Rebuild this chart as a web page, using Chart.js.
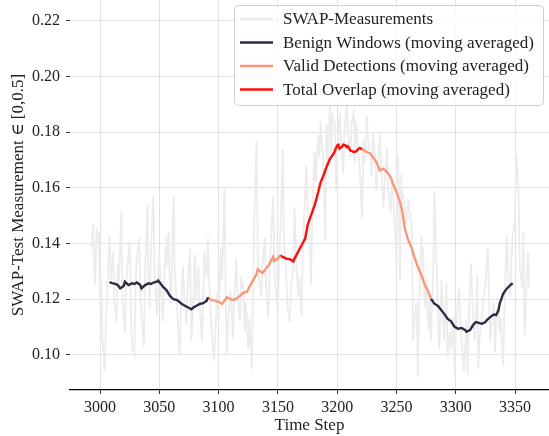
<!DOCTYPE html>
<html>
<head>
<meta charset="utf-8">
<script src="https://cdn.jsdelivr.net/npm/chart.js@4.4.0/dist/chart.umd.min.js"></script>
<style>
    body { margin: 0; background: #fff; }
    #wrap { width: 549px; height: 436px; }
</style>
</head>
<body>
<div id="wrap"><canvas id="graficoSwap" width="549" height="436"></canvas></div>
<script>
// Datos
const rawSteps = [
    2993, 2994, 2995, 2996, 2997, 2998, 2999, 3000, 3001, 3002, 3004, 3005, 3006, 3008, 3009, 3011, 3012, 3014, 3015, 3016,
    3018, 3019, 3021, 3022, 3023, 3025, 3026, 3027, 3029, 3030, 3031, 3033, 3034, 3036, 3037, 3038, 3040, 3041, 3042, 3043,
    3045, 3046, 3048, 3049, 3050, 3052, 3053, 3054, 3056, 3057, 3058, 3059, 3060, 3062, 3063, 3065, 3066, 3067, 3068, 3070,
    3071, 3073, 3074, 3076, 3077, 3078, 3080, 3081, 3083, 3084, 3086, 3087, 3088, 3090, 3091, 3092, 3094, 3096, 3097, 3099,
    3100, 3102, 3103, 3105, 3106, 3107, 3108, 3110, 3111, 3112, 3113, 3115, 3116, 3118, 3119, 3121, 3122, 3123, 3125, 3126,
    3128, 3129, 3130, 3132, 3133, 3134, 3136, 3137, 3139, 3140, 3142, 3143, 3145, 3146, 3147, 3149, 3150, 3151, 3153, 3154,
    3155, 3157, 3158, 3160, 3161, 3163, 3164, 3165, 3167, 3168, 3170, 3171, 3172, 3174, 3175, 3177, 3178, 3179, 3181, 3182,
    3184, 3185, 3186, 3187, 3188, 3190, 3191, 3192, 3194, 3195, 3196, 3198, 3199, 3200, 3202, 3203, 3205, 3206, 3208, 3209,
    3211, 3212, 3214, 3215, 3216, 3217, 3219, 3221, 3222, 3223, 3225, 3226, 3228, 3229, 3230, 3232, 3233, 3234, 3236, 3237,
    3239, 3240, 3242, 3243, 3245, 3246, 3247, 3249, 3250, 3251, 3252, 3253, 3254, 3255, 3257, 3258, 3260, 3261, 3263, 3264,
    3265, 3267, 3268, 3269, 3271, 3272, 3274, 3275, 3277, 3278, 3279, 3281, 3282, 3283, 3284, 3286, 3287, 3288, 3290, 3291,
    3292, 3293, 3295, 3296, 3298, 3299, 3300, 3302, 3303, 3304, 3306, 3307, 3309, 3310, 3311, 3312, 3313, 3314, 3316, 3317,
    3318, 3319, 3320, 3322, 3323, 3325, 3326, 3327, 3329, 3330, 3332, 3333, 3334, 3336, 3337, 3338, 3340, 3341, 3343, 3344,
    3346, 3347, 3348, 3350, 3351, 3352, 3353, 3354, 3356, 3357, 3358, 3360, 3361, 3362
];
const rawValues = [
    0.139, 0.147, 0.131, 0.125, 0.146, 0.140, 0.144, 0.118, 0.128, 0.106, 0.094, 0.112, 0.121, 0.143, 0.127, 0.137, 0.119, 0.112, 0.133, 0.126,
    0.152, 0.121, 0.108, 0.125, 0.131, 0.141, 0.118, 0.103, 0.100, 0.124, 0.135, 0.142, 0.121, 0.109, 0.103, 0.129, 0.154, 0.125, 0.117, 0.138,
    0.157, 0.129, 0.114, 0.128, 0.136, 0.119, 0.112, 0.127, 0.143, 0.132, 0.144, 0.123, 0.118, 0.157, 0.131, 0.117, 0.109, 0.100, 0.114, 0.132,
    0.121, 0.111, 0.125, 0.138, 0.105, 0.112, 0.136, 0.120, 0.132, 0.118, 0.105, 0.121, 0.137, 0.128, 0.142, 0.126, 0.109, 0.098, 0.106, 0.123,
    0.114, 0.138, 0.127, 0.160, 0.121, 0.100, 0.112, 0.123, 0.117, 0.106, 0.118, 0.135, 0.121, 0.112, 0.128, 0.123, 0.108, 0.119, 0.102, 0.113,
    0.095, 0.121, 0.148, 0.177, 0.137, 0.128, 0.121, 0.133, 0.142, 0.125, 0.113, 0.131, 0.149, 0.157, 0.131, 0.119, 0.117, 0.132, 0.155, 0.174,
    0.142, 0.129, 0.118, 0.112, 0.124, 0.131, 0.153, 0.137, 0.121, 0.128, 0.114, 0.137, 0.149, 0.168, 0.152, 0.141, 0.125, 0.149, 0.173, 0.162,
    0.179, 0.171, 0.184, 0.176, 0.171, 0.141, 0.183, 0.168, 0.190, 0.171, 0.186, 0.183, 0.159, 0.172, 0.187, 0.178, 0.165, 0.179, 0.190, 0.181,
    0.171, 0.183, 0.187, 0.169, 0.184, 0.176, 0.167, 0.149, 0.177, 0.169, 0.186, 0.178, 0.171, 0.164, 0.180, 0.171, 0.159, 0.166, 0.180, 0.168,
    0.153, 0.162, 0.174, 0.160, 0.151, 0.163, 0.159, 0.142, 0.132, 0.172, 0.161, 0.127, 0.165, 0.158, 0.153, 0.147, 0.156, 0.151, 0.145, 0.105,
    0.112, 0.119, 0.092, 0.116, 0.143, 0.139, 0.117, 0.128, 0.109, 0.121, 0.105, 0.131, 0.159, 0.142, 0.129, 0.102, 0.114, 0.127, 0.105, 0.116,
    0.126, 0.099, 0.108, 0.102, 0.114, 0.093, 0.107, 0.121, 0.123, 0.111, 0.099, 0.094, 0.113, 0.093, 0.110, 0.125, 0.133, 0.119, 0.105, 0.114,
    0.129, 0.095, 0.106, 0.114, 0.119, 0.125, 0.131, 0.139, 0.105, 0.112, 0.119, 0.101, 0.114, 0.117, 0.108, 0.113, 0.096, 0.117, 0.143, 0.131,
    0.121, 0.135, 0.143, 0.149, 0.172, 0.166, 0.158, 0.131, 0.124, 0.144, 0.107, 0.129, 0.137, 0.124
];

// Media movil
const maSteps = [
    3008, 3010, 3013, 3015, 3017, 3020, 3021, 3024, 3027, 3029, 3031, 3034, 3035, 3038, 3041, 3043, 3045, 3048, 3049, 3051,
    3053, 3056, 3059, 3062, 3065, 3069, 3072, 3074, 3077, 3079, 3081, 3084, 3087, 3090, 3091, 3094, 3097, 3100, 3103, 3105,
    3107, 3110, 3112, 3115, 3118, 3121, 3124, 3126, 3129, 3132, 3133, 3135, 3137, 3140, 3143, 3146, 3147, 3150, 3152, 3154,
    3157, 3160, 3163, 3164, 3167, 3170, 3173, 3175, 3178, 3181, 3184, 3186, 3188, 3191, 3194, 3197, 3200, 3201, 3202, 3204,
    3205, 3207, 3208, 3209, 3211, 3214, 3216, 3218, 3219, 3221, 3225, 3228, 3230, 3233, 3236, 3239, 3242, 3245, 3247, 3250,
    3253, 3255, 3257, 3260, 3263, 3265, 3268, 3271, 3274, 3277, 3279, 3282, 3285, 3288, 3291, 3293, 3296, 3299, 3302, 3305,
    3308, 3309, 3312, 3315, 3317, 3320, 3322, 3325, 3326, 3329, 3332, 3334, 3336, 3337, 3340, 3343, 3346, 3348
];
const maValues = [
    0.1262, 0.1258, 0.1255, 0.1251, 0.1239, 0.1248, 0.1263, 0.1251, 0.1257, 0.1255, 0.1260, 0.1251, 0.1239, 0.1251, 0.1257, 0.1255, 0.1260, 0.1263, 0.1267, 0.1257,
    0.1245, 0.1233, 0.1212, 0.1200, 0.1197, 0.1183, 0.1176, 0.1171, 0.1164, 0.1171, 0.1176, 0.1183, 0.1186, 0.1195, 0.1207, 0.1197, 0.1195, 0.1191, 0.1183, 0.1195,
    0.1207, 0.1200, 0.1197, 0.1202, 0.1212, 0.1224, 0.1227, 0.1245, 0.1268, 0.1290, 0.1308, 0.1300, 0.1294, 0.1310, 0.1328, 0.1352, 0.1338, 0.1346, 0.1358, 0.1352,
    0.1346, 0.1344, 0.1336, 0.1346, 0.1370, 0.1394, 0.1418, 0.1466, 0.1502, 0.1538, 0.1585, 0.1620, 0.1640, 0.1675, 0.1705, 0.1723, 0.1753, 0.1755, 0.1741, 0.1747,
    0.1755, 0.1753, 0.1747, 0.1750, 0.1735, 0.1729, 0.1731, 0.1741, 0.1743, 0.1739, 0.1729, 0.1723, 0.1711, 0.1693, 0.1663, 0.1669, 0.1657, 0.1639, 0.1615, 0.1585,
    0.1550, 0.1513, 0.1453, 0.1412, 0.1382, 0.1352, 0.1316, 0.1286, 0.1250, 0.1226, 0.1202, 0.1184, 0.1176, 0.1160, 0.1143, 0.1130, 0.1121, 0.1101, 0.1094, 0.1097,
    0.1089, 0.1083, 0.1089, 0.1110, 0.1118, 0.1114, 0.1112, 0.1118, 0.1124, 0.1136, 0.1145, 0.1143, 0.1160, 0.1184, 0.1220, 0.1238, 0.1251, 0.1258
];

// Cambios de fase (pasos donde cambia el color)
const phaseBreaks = [3091, 3152, 3221, 3279];
const phaseKinds = ['benign', 'valid', 'overlap', 'valid', 'benign'];

const legendLabels = [
    'SWAP-Measurements',
    'Benign Windows (moving averaged)',
    'Valid Detections (moving averaged)',
    'Total Overlap (moving averaged)'
];

const colores = {
    raw: '#ececec',
    benign: '#2b2d42',
    valid: '#f7987a',
    overlap: '#ff0d0d'
};
const fuente = "'Liberation Serif', 'DejaVu Serif', serif";

// Construir datasets
const rawPoints = rawSteps.map((t, i) => ({ x: t, y: rawValues[i] }));
const maPoints = maSteps.map((t, i) => ({ x: t, y: maValues[i] }));

const datasets = [];
phaseKinds.forEach((kind, k) => {
    const start = k === 0 ? -Infinity : phaseBreaks[k - 1];
    const end = k === phaseKinds.length - 1 ? Infinity : phaseBreaks[k];
    datasets.push({
        data: maPoints.filter(p => p.x >= start && p.x <= end),
        borderColor: colores[kind],
        borderWidth: 2.4,
        pointRadius: 0,
        tension: 0,
        order: 0
    });
});
datasets.push({
    data: rawPoints,
    borderColor: colores.raw,
    borderWidth: 1.8,
    pointRadius: 0,
    tension: 0,
    order: 1
});

// Leyenda dentro del area del grafico
const leyendaPlugin = {
    id: 'leyendaCaja',
    afterDatasetsDraw(chart) {
        const ctx = chart.ctx;
        const x0 = 234.5, y0 = 5.5, w = 309, h = 100, r = 4;
        ctx.save();
        ctx.beginPath();
        ctx.roundRect(x0, y0, w, h, r);
        ctx.fillStyle = 'rgba(255,255,255,0.8)';
        ctx.fill();
        ctx.strokeStyle = '#cfcfcf';
        ctx.lineWidth = 1;
        ctx.stroke();

        const lineColors = [colores.raw, colores.benign, colores.valid, colores.overlap];
        ctx.font = '17px ' + fuente;
        ctx.textBaseline = 'middle';
        legendLabels.forEach((label, i) => {
            const y = 19 + i * 23.5;
            ctx.beginPath();
            ctx.moveTo(240, y);
            ctx.lineTo(273, y);
            ctx.strokeStyle = lineColors[i];
            ctx.lineWidth = 2.4;
            ctx.stroke();
            ctx.fillStyle = '#222';
            ctx.fillText(label, 283, y + 1);
        });
        ctx.restore();
    }
};

const ctx = document.getElementById('graficoSwap');
new Chart(ctx, {
    type: 'line',
    data: { datasets },
    options: {
        responsive: false,
        devicePixelRatio: 1,
        animation: false,
        layout: { padding: 0 },
        plugins: {
            legend: { display: false },
            tooltip: { enabled: false }
        },
        scales: {
            x: {
                type: 'linear',
                min: 2974.7,
                max: 3378.6,
                border: { display: true, color: '#000', width: 1.3 },
                grid: { color: '#e2e2e2', lineWidth: 1, tickColor: '#333', tickLength: 4 },
                ticks: {
                    stepSize: 50,
                    includeBounds: false,
                    padding: 4,
                    color: '#222',
                    font: { family: fuente, size: 16 },
                    callback: v => String(v)
                },
                title: {
                    display: true,
                    text: 'Time Step',
                    color: '#222',
                    font: { family: fuente, size: 17 },
                    padding: { top: 0, bottom: 0 }
                },
                afterFit: s => {
                    s.height = 46;
                    s.paddingLeft = 0;
                    s.paddingRight = 0;
                }
            },
            y: {
                min: 0.0874,
                max: 0.2275,
                border: { display: false },
                grid: { color: '#e2e2e2', lineWidth: 1, tickColor: '#333', tickLength: 4 },
                ticks: {
                    stepSize: 0.02,
                    includeBounds: false,
                    padding: 6,
                    color: '#222',
                    font: { family: fuente, size: 16 },
                    callback: v => v.toFixed(2)
                },
                title: {
                    display: true,
                    text: 'SWAP-Test Measurement ∈ [0,0.5]',
                    color: '#222',
                    font: { family: fuente, size: 17 },
                    padding: { top: 8, bottom: 0 }
                },
                afterFit: s => {
                    s.width = 70;
                    s.paddingTop = 0;
                    s.paddingBottom = 0;
                }
            }
        }
    },
    plugins: [leyendaPlugin]
});
</script>
</body>
</html>
